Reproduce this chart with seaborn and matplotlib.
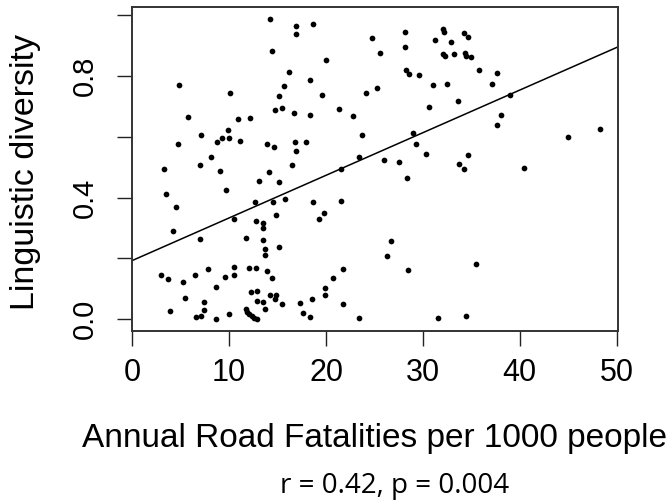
import matplotlib
matplotlib.use("Agg")
import matplotlib.pyplot as plt
import seaborn as sns
import pandas as pd

# ---- data ----
fatalities = [
    14.22, 14.42, 16.21, 4.86, 15.63, 10.12, 15.11, 14.73, 15.49, 5.72, 10.95, 12.12,
    7.06, 9.85, 4.75, 8.75, 9.26, 9.95, 11.15, 13.94, 14.63, 8.16, 3.27, 6.96, 9.06, 14.11,
    13.05, 15.18, 3.45, 9.71, 4.54, 12.64, 14.53, 15.73, 10.47, 12.74, 13.50, 13.46, 14.84,
    4.17, 6.96, 11.74, 13.53, 13.73, 15.15, 13.67, 2.96, 3.65, 5.27, 6.50, 7.85, 10.47,
    10.47, 9.54, 12.08, 12.74, 13.94, 14.42, 8.61, 5.44, 12.22, 12.84, 14.22, 14.87, 14.76,
    15.43, 12.84, 13.53, 13.73, 7.44, 7.44, 3.93, 6.58, 7.06, 8.61, 9.95, 11.71, 11.84,
    12.02, 12.36, 12.60, 12.88,
    16.90, 16.87, 18.62, 24.72, 28.12, 28.12, 25.61, 20.00, 32.11, 32.18, 31.22, 32.91,
    32.05, 32.26, 18.35, 19.62, 24.13, 25.30, 28.26, 28.57, 29.57, 31.08, 32.49, 30.60,
    16.73, 18.32, 21.31, 22.82, 23.72, 16.83, 17.94, 16.90, 29.01, 29.32, 30.29, 23.41,
    25.99, 27.51, 16.49, 21.55,
    28.33, 18.66, 21.55, 19.76, 19.31, 26.71, 26.33, 28.50, 21.72, 20.72, 19.90, 19.90,
    18.52, 17.32, 21.79, 17.63, 18.32, 23.41, 31.60,
    34.28, 34.69, 33.18, 34.35, 34.45, 35.00, 35.77, 37.66, 37.11, 33.66, 38.97, 38.07,
    37.66, 44.96, 48.32, 34.69, 33.76, 34.22, 40.47,
    35.49, 34.49,
]
diversity = [
    0.987, 0.881, 0.813, 0.771, 0.767, 0.745, 0.735, 0.688, 0.693, 0.663, 0.657, 0.660,
    0.607, 0.623, 0.576, 0.584, 0.597, 0.594, 0.586, 0.576, 0.565, 0.532, 0.494, 0.507, 0.488, 0.484,
    0.454, 0.452, 0.411, 0.426, 0.368, 0.385, 0.385, 0.394, 0.331, 0.323, 0.316, 0.299, 0.341,
    0.289, 0.265, 0.266, 0.261, 0.232, 0.237, 0.210, 0.145, 0.132, 0.123, 0.147, 0.164, 0.173,
    0.146, 0.139, 0.168, 0.168, 0.159, 0.137, 0.105, 0.071, 0.091, 0.092, 0.080, 0.080, 0.065,
    0.050, 0.059, 0.057, 0.035, 0.056, 0.032, 0.027, 0.008, 0.012, 0.001, 0.018, 0.035, 0.025,
    0.018, 0.011, 0.004, 0.001,
    0.964, 0.937, 0.971, 0.924, 0.943, 0.894, 0.875, 0.853, 0.953, 0.943, 0.919, 0.912,
    0.872, 0.866, 0.785, 0.738, 0.745, 0.759, 0.819, 0.806, 0.802, 0.770, 0.772, 0.698,
    0.679, 0.671, 0.690, 0.668, 0.607, 0.582, 0.583, 0.554, 0.611, 0.577, 0.543, 0.532,
    0.524, 0.518, 0.507, 0.494,
    0.463, 0.385, 0.387, 0.350, 0.331, 0.258, 0.209, 0.161, 0.166, 0.137, 0.103, 0.080,
    0.067, 0.054, 0.051, 0.021, 0.008, 0.003, 0.003,
    0.941, 0.928, 0.871, 0.874, 0.866, 0.861, 0.819, 0.809, 0.774, 0.718, 0.738, 0.671,
    0.637, 0.599, 0.624, 0.541, 0.511, 0.495, 0.498,
    0.183, 0.012,
]
fit_intercept = 0.193
fit_slope = 0.014

x_ticks = [0, 10, 20, 30, 40, 50]
y_ticks = [0.0, 0.2, 0.4, 0.6, 0.8, 1.0]
y_tick_labels = ["0.0", "", "0.4", "", "0.8", ""]

x_label = "Annual Road Fatalities per 1000 people"
y_label = "Linguistic diversity"
stats_text = "r = 0.42, p = 0.004"

df = pd.DataFrame({"fatalities": fatalities, "diversity": diversity})

sns.set_theme(style="ticks")
plt.rcParams["font.family"] = ["Liberation Sans", "DejaVu Sans"]

fig = plt.figure(figsize=(6.70, 5.01), dpi=100)
ax = fig.add_axes([0.1966, 0.340, 0.7254, 0.646])

sns.scatterplot(data=df, x="fatalities", y="diversity", ax=ax,
                color="black", s=17, linewidth=0, legend=False)
ax.axline((0, fit_intercept), slope=fit_slope, color="black", lw=1.1)

ax.set_xlim(-0.06, 50.12)
ax.set_ylim(-0.0375, 1.026)
ax.set_xticks(x_ticks)
ax.set_xticklabels([str(v) for v in x_ticks], fontsize=22)
ax.set_yticks(y_ticks)
ax.set_yticklabels(y_tick_labels, fontsize=21, rotation=90, va="center")
ax.tick_params(axis="both", direction="out", length=10.5, width=1.0,
               color="#222222", labelcolor="black")
ax.tick_params(axis="x", pad=9)
ax.tick_params(axis="y", pad=13)
ax.set_xlabel("")
ax.set_ylabel("")
for sp in ax.spines.values():
    sp.set_visible(True)
    sp.set_color("#333333")
    sp.set_linewidth(1.4)

fig.text(374.7 / 670, 1 - 446.7 / 501, x_label, fontsize=24,
         ha="center", va="baseline", color="black")
fig.text(26 / 670, 1 - 172 / 501, y_label, fontsize=24.5, rotation=90,
         ha="center", va="center", color="black")
fig.text(394.7 / 670, 1 - 492.7 / 501, stats_text, fontsize=20,
         family=["Open Sans", "DejaVu Sans"], ha="center", va="baseline", color="black")

fig.savefig("out.png", dpi=100, facecolor="white")
